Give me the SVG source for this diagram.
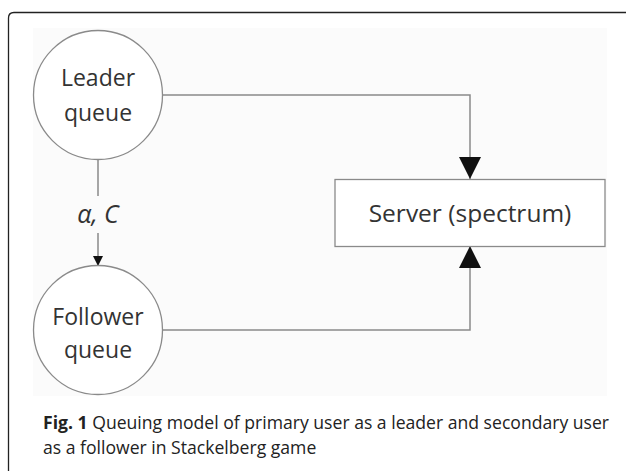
<svg xmlns="http://www.w3.org/2000/svg" width="626" height="471" viewBox="0 0 626 471">
<style>
.node{fill:#ffffff;stroke:#8a8a8a;stroke-width:1.3}
.lbl{font-family:"Open Sans","Liberation Sans",sans-serif;font-size:23px;fill:#333;text-anchor:middle}
.conn{fill:none;stroke:#8a8a8a;stroke-width:1.5}
.cap{font-family:"Open Sans","Liberation Sans",sans-serif;font-size:17.6px;fill:#222}
</style>
<defs>
<marker id="big" viewBox="0 0 22 24" refX="22" refY="11" markerWidth="22" markerHeight="24" markerUnits="userSpaceOnUse" orient="auto">
<path d="M0,0 L22,11 L0,22 Z" fill="#111"/>
</marker>
<marker id="small" viewBox="0 0 10 10" refX="10" refY="5" markerWidth="10" markerHeight="10" markerUnits="userSpaceOnUse" orient="auto">
<path d="M0,0 L10,5 L0,10 Z" fill="#111"/>
</marker>
</defs>
<rect width="626" height="471" fill="#ffffff"/>
<path d="M8.5,471 V18 Q8.5,12.5 14,12.5 H626" fill="none" stroke="#222" stroke-width="1.3"/>
<rect x="33" y="28" width="574" height="368" fill="#fbfbfb"/>
<g id="connectors">
<path class="conn" d="M163,95 H470 V179" marker-end="url(#big)"/>
<path class="conn" d="M163,330 H470 V246" marker-end="url(#big)"/>
<path class="conn" d="M98,158 V196"/>
<path class="conn" d="M98,233 V266" marker-end="url(#small)"/>
<text x="98" y="223" class="lbl" style="font-style:italic;font-size:25px">α, C</text>
</g>
<g id="leader">
<circle class="node" cx="98" cy="95" r="64.5"/>
<text class="lbl" x="98" y="86">Leader</text>
<text class="lbl" x="98" y="121">queue</text>
</g>
<g id="follower">
<circle class="node" cx="98" cy="330" r="64.5"/>
<text class="lbl" x="98" y="325">Follower</text>
<text class="lbl" x="98" y="358">queue</text>
</g>
<g id="server">
<rect class="node" x="335" y="179.5" width="270" height="67"/>
<text class="lbl" x="470" y="222" style="font-size:24.5px">Server (spectrum)</text>
</g>
<g id="caption">
<text class="cap" x="43" y="429"><tspan font-weight="bold">Fig. 1</tspan> Queuing model of primary user as a leader and secondary user</text>
<text class="cap" x="43" y="454">as a follower in Stackelberg game</text>
</g>
</svg>
